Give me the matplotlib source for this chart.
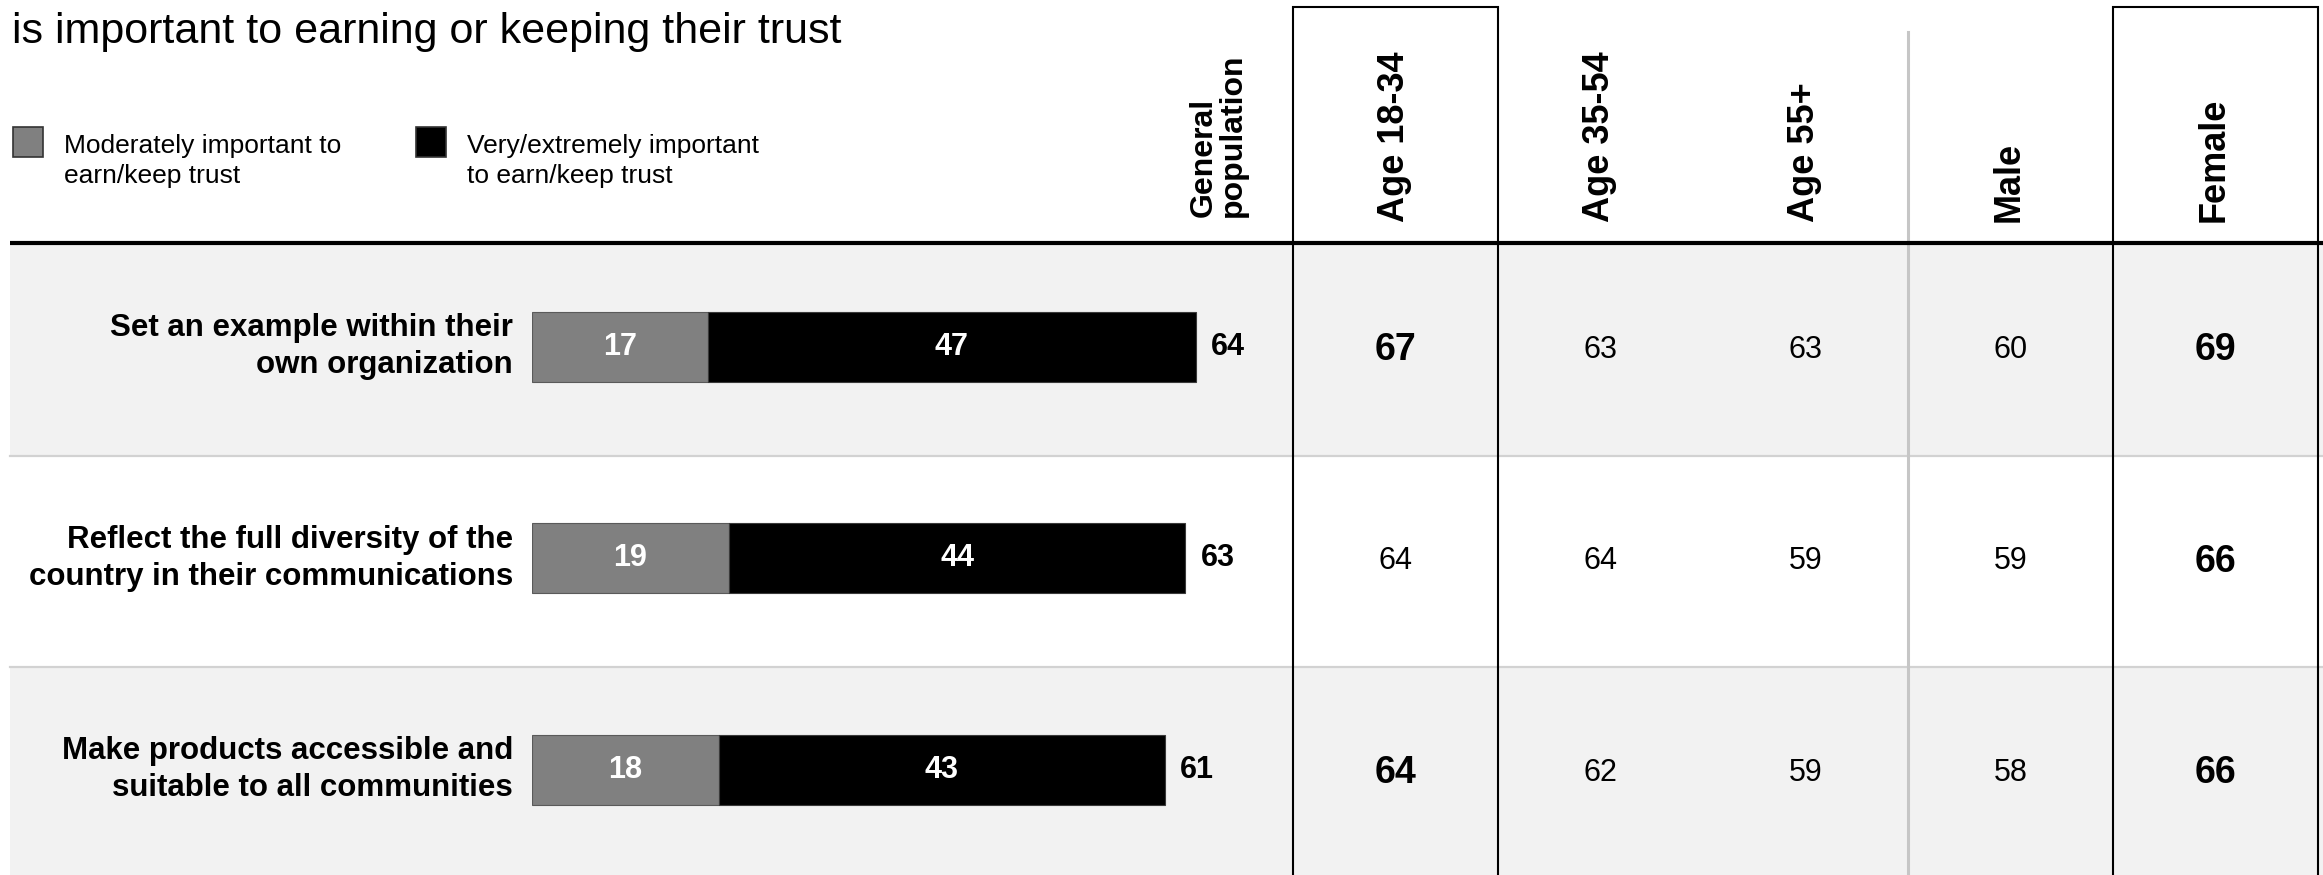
import matplotlib
matplotlib.use("Agg")
import matplotlib.pyplot as plt
from matplotlib.patches import Rectangle
import numpy as np

plt.rcParams['font.family'] = ['Liberation Sans', 'DejaVu Sans']

# ---- data ----
categories = [
    "Set an example within their\nown organization",
    "Reflect the full diversity of the\ncountry in their communications",
    "Make products accessible and\nsuitable to all communities",
]
moderately = [17, 19, 18]
very_extremely = [47, 44, 43]

segments = ["Age 18-34", "Age 35-54", "Age 55+", "Male", "Female"]
segment_values = {
    "Age 18-34": [67, 64, 64],
    "Age 35-54": [63, 64, 62],
    "Age 55+":   [63, 59, 59],
    "Male":      [60, 59, 58],
    "Female":    [69, 66, 66],
}
# cells that stand out from the general population
segment_highlight = {
    "Age 18-34": [True, False, True],
    "Age 35-54": [False, False, False],
    "Age 55+":   [False, False, False],
    "Male":      [False, False, False],
    "Female":    [True, True, True],
}
boxed_segments = ["Age 18-34", "Female"]

title_text = "is important to earning or keeping their trust"
legend_labels = ["Moderately important to\nearn/keep trust",
                 "Very/extremely important\nto earn/keep trust"]

# ---- layout (pixels) ----
W, H, DPI = 2323, 875, 100
GRAY = "#808080"
ROW_BG = "#f2f2f2"

fig = plt.figure(figsize=(W / DPI, H / DPI), dpi=DPI)
ax = fig.add_axes([0, 0, 1, 1])
ax.set_xlim(0, W)
ax.set_ylim(H, 0)
ax.axis("off")

def px(size_pt):
    return size_pt * DPI / 72.0

table_top = 244
row_h = 211.5
left_edge = 10
n_rows = len(categories)

# row backgrounds and separators
for i in range(n_rows):
    y0 = table_top + i * row_h
    if i % 2 == 0:
        ax.add_patch(Rectangle((left_edge, y0), W - left_edge, row_h,
                               facecolor=ROW_BG, edgecolor="none", zorder=0))
    if i > 0:
        ax.plot([left_edge, W], [y0, y0], color="#d2d2d2", lw=1.6, zorder=1)

# header rule
ax.plot([left_edge, W], [243, 243], color="black", lw=3.0, zorder=5,
        solid_capstyle="butt")

# segment columns
col_left = 1293
col_w = 205
col_centers = [col_left + col_w * (j + 0.5) for j in range(len(segments))]

# boxes around the emphasised columns
for j, seg in enumerate(segments):
    if seg in boxed_segments:
        x0 = col_left + col_w * j
        ax.plot([x0, x0, x0 + col_w, x0 + col_w], [H + 5, 7, 7, H + 5],
                color="black", lw=1.5, zorder=4, solid_joinstyle="miter")
# light divider between age and gender groups
x_div = col_left + col_w * 3
ax.plot([x_div, x_div], [32, H + 5], color="#c6c6c6", lw=2.2, zorder=3)

# title and legend
ax.text(12, 43, title_text, fontsize=31, color="black", va="baseline", ha="left")
legend_x = [13, 416]
legend_colors = [GRAY, "black"]
for lx, lc, lab in zip(legend_x, legend_colors, legend_labels):
    ax.add_patch(Rectangle((lx, 127), 30, 30, facecolor=lc, edgecolor="#333333",
                           lw=1.2, zorder=3))
    ax.text(lx + 51, 161, lab, fontsize=19, va="center", ha="left",
            linespacing=1.32)

# column headers
ax.text(1218, 217, "General\npopulation", rotation=90, fontsize=23,
        fontweight="bold", ha="center", va="bottom", linespacing=0.95,
        multialignment="left")
for seg, cx in zip(segments, col_centers):
    ax.text(cx - 1, 222, seg, rotation=90, fontsize=26, fontweight="bold",
            ha="center", va="bottom")

# segment values
for j, seg in enumerate(segments):
    for i, v in enumerate(segment_values[seg]):
        bold = segment_highlight[seg][i]
        size = 27 if bold else 22
        yc = table_top + (i + 0.5) * row_h - 3
        ax.text(col_centers[j], yc + 0.716 * px(size) / 2, str(v),
                fontsize=size, fontweight="bold" if bold else "normal",
                ha="center", va="baseline")

# category labels
for i, cat in enumerate(categories):
    yc = table_top + (i + 0.5) * row_h - 3
    ax.text(513, yc, cat, fontsize=22.5, fontweight="bold", ha="right",
            va="center", multialignment="right", linespacing=1.32)

# ---- stacked bars on their own scale ----
unit_px = 10.37
x_max = 100
bar_left = 532
shift = 3 / row_h
bax = fig.add_axes([bar_left / W, 1 - (table_top + n_rows * row_h) / H,
                    x_max * unit_px / W, n_rows * row_h / H])
bax.set_xlim(0, x_max)
bax.set_ylim(n_rows + shift, shift)
bax.axis("off")
bax.patch.set_alpha(0)

ypos = np.arange(n_rows) + 0.5
mod = np.array(moderately)
very = np.array(very_extremely)
bar_h = 70 / row_h
b1 = bax.barh(ypos, mod, height=bar_h, color=GRAY, edgecolor="#5a5a5a", lw=0.8)
b2 = bax.barh(ypos, very, left=mod, height=bar_h, color="black",
              edgecolor="#3a3a3a", lw=0.8)
bax.bar_label(b1, labels=[str(v) for v in mod], label_type="center",
              color="white", fontsize=22, fontweight="bold")
bax.bar_label(b2, labels=[str(v) for v in very], label_type="center",
              color="white", fontsize=22, fontweight="bold")
totals = mod + very
for y, t in zip(ypos, totals):
    bax.annotate(str(t), (t, y), xytext=(11, 0), textcoords="offset points",
                 ha="left", va="center", fontsize=22, fontweight="bold")

fig.savefig("out.png", dpi=DPI)
